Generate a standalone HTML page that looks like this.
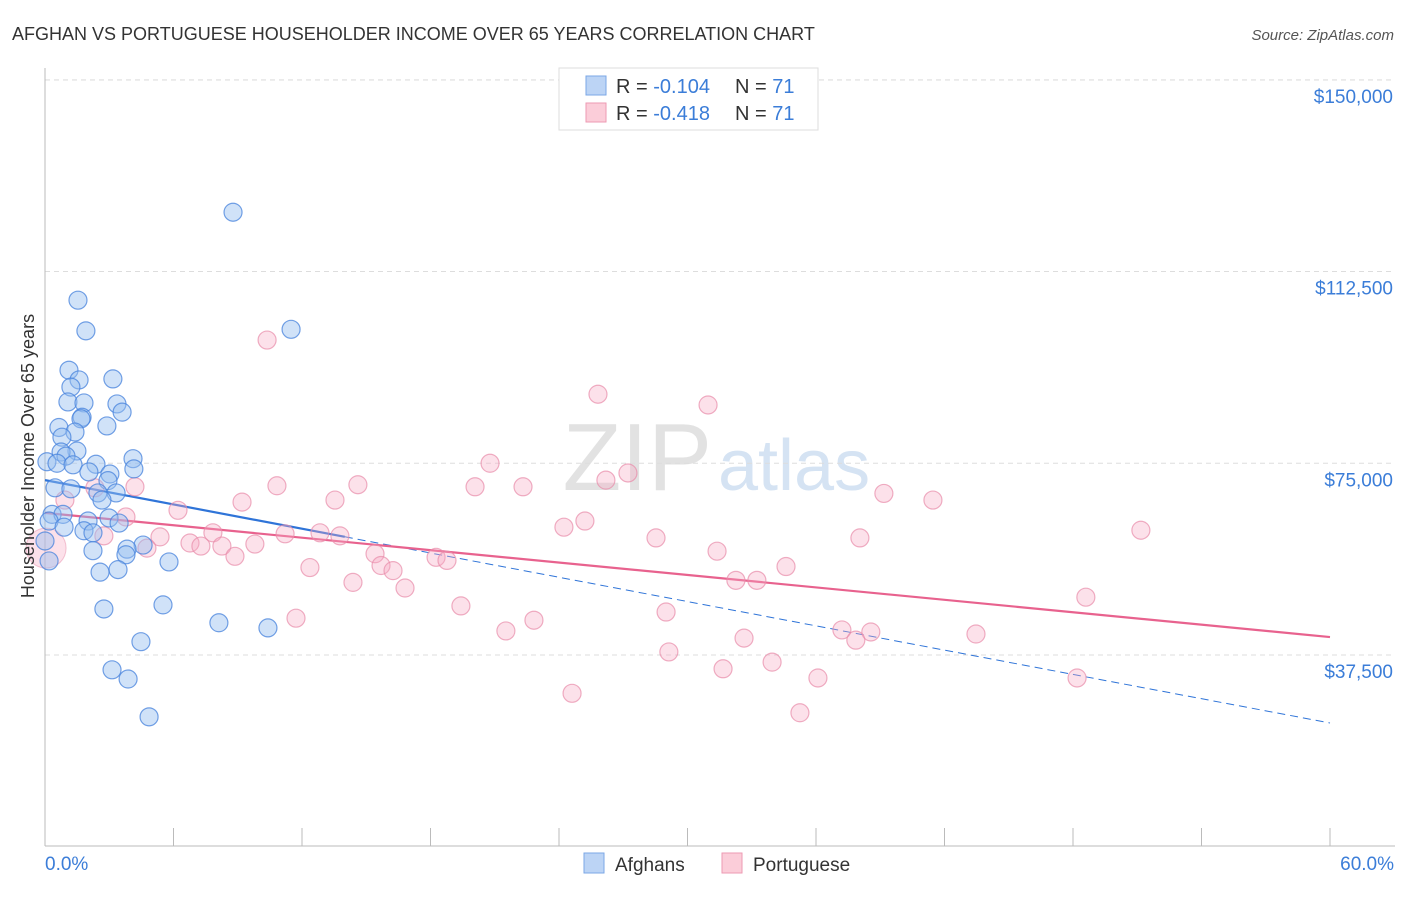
<!DOCTYPE html>
<html><head><meta charset="utf-8">
<style>
body{margin:0;background:#fff;font-family:"Liberation Sans",sans-serif;}
svg text{font-family:"Liberation Sans",sans-serif;}
</style></head>
<body>
<svg id="chart" width="1406" height="892" viewBox="0 0 1406 892">
<text x="12" y="40" font-size="18" fill="#333">AFGHAN VS PORTUGUESE HOUSEHOLDER INCOME OVER 65 YEARS CORRELATION CHART</text>
<text x="1394" y="40" font-size="15" fill="#555" font-style="italic" text-anchor="end">Source: ZipAtlas.com</text>
<text x="712" y="490" font-size="96" fill="#e2e2e2" text-anchor="end" font-family="Liberation Serif">ZIP</text>
<text x="718" y="490" font-size="72" fill="#d5e3f3">atlas</text>
<g id="grid"></g>
<g id="axes"></g>
<g id="lines"></g>
<g id="points"></g>
<text transform="translate(34,456) rotate(-90)" font-size="18" fill="#333" text-anchor="middle">Householder Income Over 65 years</text>
<g>
<rect x="559" y="68" width="259" height="62" fill="#fff" stroke="#ddd"/>
<rect x="586" y="76" width="20" height="19" fill="#bcd4f5" stroke="#7ba7e6"/>
<text x="616" y="93" font-size="20" fill="#333">R = <tspan fill="#3b7dd8">-0.104</tspan><tspan x="735">N = </tspan><tspan fill="#3b7dd8">71</tspan></text>
<rect x="586" y="103" width="20" height="19" fill="#fbcdd9" stroke="#ee9ab3"/>
<text x="616" y="120" font-size="20" fill="#333">R = <tspan fill="#3b7dd8">-0.418</tspan><tspan x="735">N = </tspan><tspan fill="#3b7dd8">71</tspan></text>
</g>
<g>
<rect x="584" y="853" width="20" height="20" fill="#bcd4f5" stroke="#7ba7e6"/>
<text x="615" y="871" font-size="19" fill="#333">Afghans</text>
<rect x="722" y="853" width="20" height="20" fill="#fbcdd9" stroke="#ee9ab3"/>
<text x="753" y="871" font-size="19" fill="#333">Portuguese</text>
</g>
</svg>
<script>
const yTicks=[37500,75000,112500,150000];
const yTickLabels=["$37,500","$75,000","$112,500","$150,000"];
const afghanX=[8.78,1.54,1.91,11.49,1.12,3.17,1.59,1.21,1.07,1.82,3.36,3.60,1.73,1.68,2.89,0.65,1.40,0.79,1.49,0.75,0.09,0.98,0.56,2.38,1.31,4.11,4.15,3.03,2.05,2.94,0.47,1.21,2.47,3.32,2.66,0.33,0.84,2.99,0.19,2.01,0.89,3.46,1.82,2.24,0,4.58,3.83,3.78,2.24,5.79,0.19,3.41,2.57,5.51,2.75,8.12,10.41,4.48,3.13,3.88,4.86];
const afghanY=[124.1,106.9,100.9,101.2,93.2,91.5,91.3,89.9,87.0,86.8,86.6,85.0,84.0,83.7,82.3,82.0,81.1,80.1,77.4,77.2,75.3,76.4,75.0,74.8,74.7,75.9,73.9,72.9,73.3,71.6,70.2,70.0,69.2,69.2,67.8,65.0,65.0,64.3,63.7,63.7,62.5,63.3,61.8,61.4,59.8,59.0,58.2,57.1,57.9,55.7,55.9,54.2,53.7,47.3,46.5,43.8,42.8,40.1,34.6,32.8,25.4];
const portX=[10.37,25.82,30.96,20.78,27.22,26.19,10.83,14.61,20.08,22.32,4.2,2.33,39.17,41.46,9.2,13.54,0.93,6.21,3.78,25.21,24.23,51.17,11.21,12.84,13.77,5.37,7.84,2.75,28.53,38.05,6.77,7.28,9.80,8.26,4.76,31.38,15.41,8.87,18.26,18.77,15.69,16.25,34.6,12.37,32.26,33.24,14.38,16.81,19.42,29.0,48.6,11.72,22.83,21.52,37.21,38.56,37.86,43.47,32.64,29.13,33.95,31.66,36.09,48.19,24.61,35.25];
const portY=[99.1,88.5,86.4,75.0,73.1,71.7,70.6,70.8,70.4,70.4,70.4,70.2,69.1,67.8,67.4,67.8,67.8,65.8,64.5,63.7,62.5,61.9,61.2,61.4,60.8,60.6,61.4,60.8,60.4,60.4,59.4,58.8,59.2,58.8,58.4,57.8,57.3,56.8,56.6,56.0,55.0,54.0,54.8,54.6,52.1,52.1,51.7,50.6,47.1,45.9,48.8,44.7,44.3,42.2,42.4,42.0,40.4,41.6,40.8,38.1,36.1,34.8,33.0,33.0,30.0,26.2];
const afghanTrend=[71.7,24.2];
const portTrend=[65.3,41.0];
const xs=v=>45+v*(1330-45)/60;
const ys=v=>846.7-v*1000/195.6;
const NS="http://www.w3.org/2000/svg";
function mk(tag,attrs,parent){const e=document.createElementNS(NS,tag);for(const k in attrs)e.setAttribute(k,attrs[k]);document.getElementById(parent).appendChild(e);return e;}
yTicks.forEach((t,i)=>{
  const g=mk('line',{x1:45,x2:1395,y1:ys(t/1000),y2:ys(t/1000),stroke:'#ddd','stroke-dasharray':'5,4'},'grid');
  
  
  const l=mk('text',{x:1393,y:ys(t/1000)+23,'font-size':19,fill:'#3b7dd8','text-anchor':'end'},'grid');
  l.textContent=yTickLabels[i];
  
  
});
const topGrid=mk('line',{x1:45,x2:1395,y1:80,y2:80,stroke:'#ddd','stroke-dasharray':'5,4'},'grid');


const ya=mk('line',{x1:45,x2:45,y1:68,y2:846,stroke:'#bbb'},'axes');


const xa=mk('line',{x1:45,x2:1395,y1:846,y2:846,stroke:'#bbb'},'axes');


for(let i=0;i<=10;i++){const t=mk('line',{x1:xs(i*6),x2:xs(i*6),y1:828,y2:846,stroke:'#bbb'},'axes');

}
const xl0=mk('text',{x:45,y:870,'font-size':19,fill:'#3b7dd8'},'axes');xl0.textContent='0.0%';


const xl1=mk('text',{x:1394,y:870,'font-size':19,fill:'#3b7dd8','text-anchor':'end'},'axes');xl1.textContent='60.0%';


const big=mk('circle',{cx:xs(0.05),cy:ys(58.4),r:20,fill:'rgba(246,170,195,0.35)',stroke:'rgba(232,140,170,0.5)'},'points');


portX.forEach((v,i)=>{const c=mk('circle',{cx:xs(v),cy:ys(portY[i]),r:9,fill:'rgba(246,170,195,0.35)',stroke:'rgba(232,140,170,0.7)','stroke-width':1.2},'points');

});
afghanX.forEach((v,i)=>{const c=mk('circle',{cx:xs(v),cy:ys(afghanY[i]),r:9,fill:'rgba(150,190,240,0.45)',stroke:'rgba(70,130,220,0.75)','stroke-width':1.2},'points');

});
const at=v=>afghanTrend[0]+(afghanTrend[1]-afghanTrend[0])*v/60;
const pt=v=>portTrend[0]+(portTrend[1]-portTrend[0])*v/60;
const l1=mk('line',{x1:xs(0),y1:ys(at(0)),x2:xs(14),y2:ys(at(14)),stroke:'#2f74d8','stroke-width':2.2},'lines');


const l2=mk('line',{x1:xs(14),y1:ys(at(14)),x2:xs(60),y2:ys(at(60)),stroke:'#2f74d8','stroke-width':1,'stroke-dasharray':'8,5'},'lines');


const l3=mk('line',{x1:xs(0),y1:ys(pt(0)),x2:xs(60),y2:ys(pt(60)),stroke:'#e8628e','stroke-width':2.2},'lines');


</script>
</body></html>
